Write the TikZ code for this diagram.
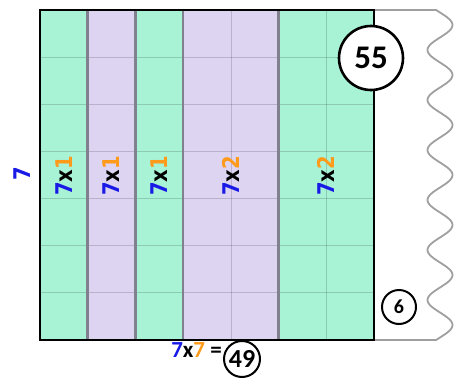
\documentclass[tikz,border=0pt]{standalone}
\usepackage{fontspec}
\newfontfamily\lblfont{DejaVu Sans}[FakeStretch=0.85]
\newfontfamily\numfont{Carlito}
\definecolor{stripgreen}{HTML}{A8F2D5}
\definecolor{strippurple}{HTML}{DDD4F2}
\definecolor{divgray}{HTML}{80808F}
\definecolor{lblblue}{HTML}{1A1AE6}
\definecolor{lblorange}{HTML}{FF9A1A}
\newcommand{\factor}[2]{\textcolor{lblblue}{#1}x\textcolor{lblorange}{#2}}

\begin{document}
\begin{tikzpicture}[x=1pt, y=-1pt,
  gridline/.style={draw=black, draw opacity=0.16, line width=0.8pt},
  divider/.style={divgray, line width=2.6pt},
  factorlbl/.style={font=\lblfont\bfseries\fontsize{23}{23}\selectfont, rotate=90, inner sep=0pt},
  ringnum/.style={circle, draw=black, fill=white, inner sep=0pt, font=\numfont\bfseries}]
  \useasboundingbox (0,0) rectangle (454,377);

  % Strips of the 7 x 7 array
  \fill[stripgreen] (40,10) rectangle (87.7,340);
  \fill[strippurple] (87.7,10) rectangle (135.4,340);
  \fill[stripgreen] (135.4,10) rectangle (183.1,340);
  \fill[strippurple] (183.1,10) rectangle (278.6,340);
  \fill[stripgreen] (278.6,10) rectangle (374,340);

  % Thin grid lines
  \foreach \r in {1,...,6}
    \draw[gridline] (40,10+\r*47.14) -- (374,10+\r*47.14);
  \draw[gridline] (230.9,10) -- (230.9,340);
  \draw[gridline] (326.3,10) -- (326.3,340);

  % Dividers between strips
  \foreach \c in {87.7,135.4,183.1,278.6}
    \draw[divider] (\c,10) -- (\c,340);

  % Torn-off remainder on the right
  \draw[gray!75, line width=1.8pt, line join=round]
    (374,10) -- (436,10)
    -- plot[domain=10:340, samples=220, smooth] ({440+12.5*sin(7.2*(\x-12.5))},\x)
    -- (374,340);

  % Outer border
  \draw[line width=2.6pt] (40,10) rectangle (374,340);

  % Labels
  \node[factorlbl, text=lblblue] (side) at (22,174) {7};
  \node[factorlbl] (s1) at (63.9,176) {\factor{7}{1}};
  \node[factorlbl] (s2) at (111.6,176) {\factor{7}{1}};
  \node[factorlbl] (s3) at (159.3,176) {\factor{7}{1}};
  \node[factorlbl] (s4) at (230.9,176) {\factor{7}{2}};
  \node[factorlbl] (s5) at (326.3,176) {\factor{7}{2}};

  % Circled totals
  \node[ringnum, line width=2.6pt, minimum size=64pt, font=\numfont\bfseries\fontsize{33}{33}\selectfont] (total) at (371,58) {55};
  \node[ringnum, line width=2pt, minimum size=34pt, font=\numfont\bfseries\fontsize{20}{20}\selectfont] (rest) at (399,307) {6};
  \node[anchor=base east, inner sep=0pt, font=\numfont\bfseries\fontsize{23}{23}\selectfont] (prod) at (222,357) {\factor{7}{7} =};
  \node[ringnum, line width=2pt, minimum size=36pt, font=\numfont\bfseries\fontsize{26}{26}\selectfont] (res) at (242,359) {49};
\end{tikzpicture}
\end{document}
